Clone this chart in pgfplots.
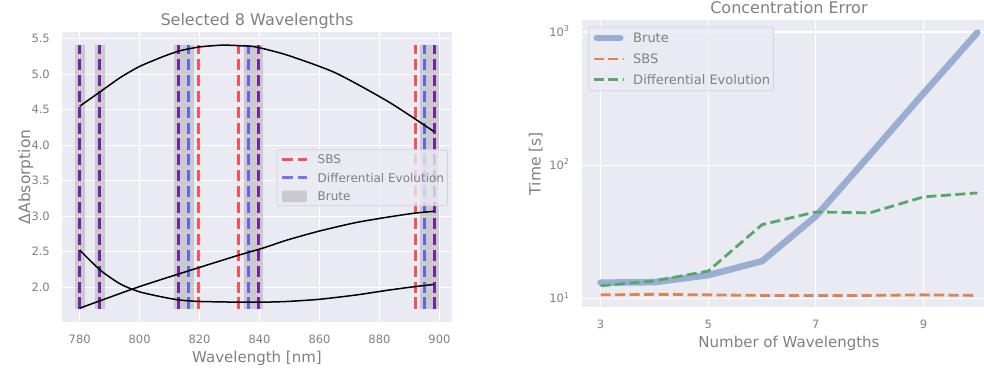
\documentclass[border=0pt]{standalone}
\usepackage{fontspec}
\setmainfont{DejaVu Sans}
\usepackage{pgfplots}
\pgfplotsset{compat=1.18}
\definecolor{bgc}{HTML}{EAEAF2}
\definecolor{txt}{HTML}{808080}
\definecolor{frm}{HTML}{D2D2DA}
\definecolor{brutec}{HTML}{9AADD2}
\definecolor{sbsc}{HTML}{DD8452}
\definecolor{dec}{HTML}{55A868}
\tikzset{
  sbsv/.style={draw=red, draw opacity=0.65, line width=3bp, dash pattern=on 11.1bp off 4.8bp},
  dev/.style={draw=blue, draw opacity=0.5, line width=3bp, dash pattern=on 11.1bp off 4.8bp},
  brv/.style={draw=gray, draw opacity=0.3, line width=10bp},
}
\pgfplotsset{
  every axis title/.style={at={(0.5,1)}, anchor=base, yshift=6.8bp, font=\fontsize{16bp}{18bp}\selectfont, text=txt},
  mystyle/.style={
    scale only axis, anchor=south west,
    axis background/.style={fill=bgc},
    axis line style={draw=none},
    major tick length=0pt, minor tick length=0pt,
    grid=major, grid style={white, line width=1.2bp},
    /pgf/number format/assume math mode=true,
    tick label style={font=\fontsize{11.5bp}{13bp}\selectfont, text=txt, inner sep=0pt},
    xticklabel style={anchor=base, yshift=-21.6bp},
    yticklabel style={anchor=base east, xshift=-12bp, yshift=-4.2bp},
    xlabel style={anchor=base, at={(axis description cs:0.5,0)}, yshift=-40.6bp, font=\fontsize{15bp}{17bp}\selectfont, text=txt},
    ylabel style={anchor=base, font=\fontsize{15.5bp}{17bp}\selectfont, text=txt},
    legend cell align=left,
  },
}
\begin{document}
\begin{tikzpicture}
\useasboundingbox (0bp,0bp) rectangle (984bp,368bp);
% ---------------- left ----------------
\begin{axis}[mystyle,
  at={(62bp,46.3bp)}, width=390bp, height=289.7bp,
  xmin=774.1, xmax=904.2, ymin=1.515, ymax=5.595,
  xtick={780,800,820,840,860,880,900},
  ytick={2.0,2.5,3.0,3.5,4.0,4.5,5.0,5.5},
  yticklabel style={/pgf/number format/.cd, fixed, fixed zerofill, precision=1},
  title={Selected 8 Wavelengths},
  xlabel={Wavelength [nm]},
  ylabel={ΔAbsorption},
  ylabel style={at={(axis description cs:-0.082,0.5)}},
  unbounded coords=jump,
  legend style={at={(axis description cs:0.5505,0.595)}, anchor=north west,
    fill=bgc, fill opacity=0.8, draw opacity=1, text opacity=1, draw=frm, line width=0.8bp,
    rounded corners=2bp, inner xsep=3.3bp, inner ysep=3.6bp,
    font=\fontsize{12bp}{14bp}\selectfont, text=txt,
    nodes={inner sep=0pt, text height=10.2bp, text depth=1.5bp},
    row sep=6.9bp, column sep=9.3bp},
]
% Brute bands
\addplot[brv, forget plot] coordinates {
 (780.0,1.70) (780.0,5.41) (780.0,nan)
 (786.7,1.70) (786.7,5.41) (786.7,nan)
 (813.1,1.70) (813.1,5.41) (813.1,nan)
 (816.4,1.70) (816.4,5.41) (816.4,nan)
 (836.4,1.70) (836.4,5.41) (836.4,nan)
 (839.6,1.70) (839.6,5.41) (839.6,nan)
 (895.1,1.70) (895.1,5.41) (895.1,nan)
 (898.3,1.70) (898.3,5.41)
};
% SBS
\addplot[sbsv, forget plot] coordinates {
 (780.0,1.70) (780.0,5.41) (780.0,nan)
 (786.7,1.70) (786.7,5.41) (786.7,nan)
 (813.1,1.70) (813.1,5.41) (813.1,nan)
 (819.8,1.70) (819.8,5.41) (819.8,nan)
 (832.9,1.70) (832.9,5.41) (832.9,nan)
 (839.6,1.70) (839.6,5.41) (839.6,nan)
 (892.0,1.70) (892.0,5.41) (892.0,nan)
 (898.3,1.70) (898.3,5.41)
};
% Differential Evolution
\addplot[dev, forget plot] coordinates {
 (780.0,1.70) (780.0,5.41) (780.0,nan)
 (786.7,1.70) (786.7,5.41) (786.7,nan)
 (813.1,1.70) (813.1,5.41) (813.1,nan)
 (816.4,1.70) (816.4,5.41) (816.4,nan)
 (836.4,1.70) (836.4,5.41) (836.4,nan)
 (839.6,1.70) (839.6,5.41) (839.6,nan)
 (895.1,1.70) (895.1,5.41) (895.1,nan)
 (898.3,1.70) (898.3,5.41)
};
% spectra
\addplot[black, line width=1.5bp, smooth, tension=0.4, forget plot] coordinates {
 (780,4.55) (786.9,4.755) (793.6,4.955) (800,5.11) (807.9,5.25) (813.4,5.33)
 (820,5.385) (827.7,5.41) (834.3,5.40) (838.7,5.385) (849.2,5.27)
 (865.3,5.02) (883.1,4.61) (898.3,4.19)
};
\addplot[black, line width=1.5bp, smooth, tension=0.4, forget plot] coordinates {
 (780,2.525) (786.9,2.24) (793.6,2.045) (800,1.935) (807.9,1.86)
 (813.4,1.82) (820,1.80) (833.2,1.79) (841,1.79) (849.2,1.80) (859.8,1.83)
 (872,1.89) (883.1,1.96) (892,2.01) (898.3,2.04)
};
\addplot[black, line width=1.5bp, smooth, tension=0.4, forget plot] coordinates {
 (780,1.705) (800,2.01) (820,2.28) (832.9,2.45) (841,2.55) (849.2,2.665)
 (859.8,2.79) (872,2.91) (883.1,2.99) (892,3.045) (898.3,3.07)
};
\addlegendimage{legend image code/.code={\path[draw=none,fill=none] (0bp,-5.85bp) rectangle (25bp,5.85bp); \draw[sbsv] (0bp,0bp) -- (25bp,0bp);}}
\addlegendentry{SBS}
\addlegendimage{legend image code/.code={\path[draw=none,fill=none] (0bp,-5.85bp) rectangle (25bp,5.85bp); \draw[dev] (0bp,0bp) -- (25bp,0bp);}}
\addlegendentry{Differential Evolution}
\addlegendimage{legend image code/.code={\path[draw=none, fill=gray, fill opacity=0.3] (0bp,-5.85bp) rectangle (25bp,5.85bp);}}
\addlegendentry{Brute}
\end{axis}
% ---------------- right ----------------
\begin{axis}[mystyle,
  at={(581.7bp,60.7bp)}, width=414.5bp, height=287.3bp,
  xmin=2.65, xmax=10.35, ymode=log, ymin=8.55, ymax=1230,
  xtick={3,5,7,9},
  ytick={10,100,1000},
  yticklabels={10\textsuperscript{1},10\textsuperscript{2},10\textsuperscript{3}},
  title={Concentration Error},
  xlabel={Number of Wavelengths},
  ylabel={Time [s]},
  ylabel style={at={(axis description cs:-0.0989,0.5)}},
  legend style={at={(axis description cs:0.016,0.977)}, anchor=north west,
    fill=bgc, fill opacity=0.8, draw opacity=1, text opacity=1, draw=frm, line width=0.8bp,
    rounded corners=2bp, inner xsep=3.4bp, inner ysep=4.3bp,
    font=\fontsize{13bp}{15bp}\selectfont, text=txt,
    nodes={inner sep=0pt, text height=11.5bp, text depth=2bp},
    row sep=7.35bp, column sep=8.3bp},
  legend image code/.code={\path[draw=none,fill=none] (0bp,-6.75bp) rectangle (30bp,6.75bp); \draw[#1] (0bp,0bp) -- (30bp,0bp);},
]
\addplot[brutec, line width=6.5bp, line cap=round, line join=round,
  legend image code/.code={\path[draw=none,fill=none] (0bp,-6.75bp) rectangle (30bp,6.75bp); \draw[brutec, line width=6.5bp, line cap=round] (3.25bp,0bp) -- (26.75bp,0bp);}] coordinates {
 (3,13.1) (4,13.2) (5,14.9) (6,19.0) (7,41.3) (8,119) (9,346) (10,989)
};
\addlegendentry{Brute}
\addplot[sbsc, line width=2.8bp, dash pattern=on 10bp off 4.5bp] coordinates {
 (3,10.6) (4,10.7) (5,10.6) (6,10.5) (7,10.5) (8,10.5) (9,10.6) (10,10.5)
};
\addlegendentry{SBS}
\addplot[dec, line width=2.8bp, dash pattern=on 10bp off 4.5bp] coordinates {
 (3,12.4) (4,13.5) (5,16.0) (6,35.7) (7,44.5) (8,43.8) (9,57.7) (10,61.8)
};
\addlegendentry{Differential Evolution}
\end{axis}
\end{tikzpicture}
\end{document}
